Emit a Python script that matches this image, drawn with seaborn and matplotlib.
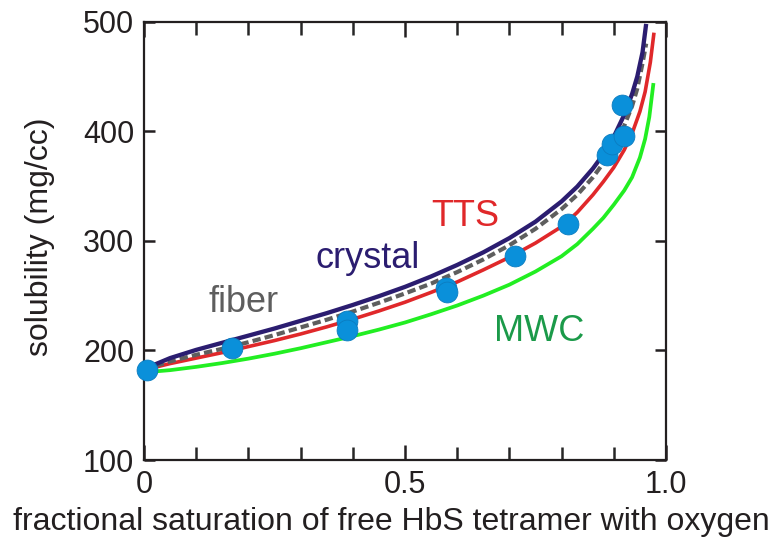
import numpy as np
import pandas as pd
import seaborn as sns
import matplotlib
matplotlib.use("Agg")
import matplotlib.pyplot as plt
from matplotlib.ticker import MultipleLocator, FixedLocator, FixedFormatter

# Model curves: solubility (mg/cc) vs fractional saturation of free HbS tetramer
crystal_x = [0.00, 0.02, 0.05, 0.10, 0.15, 0.20, 0.25, 0.30, 0.35, 0.40, 0.45, 0.50, 0.55, 0.60,
             0.65, 0.70, 0.75, 0.80, 0.83, 0.86, 0.88, 0.90, 0.92, 0.935, 0.945, 0.955, 0.962]
crystal_y = [183, 187, 193, 200.5, 207, 213.5, 220, 227, 234, 241.5, 249.5, 258, 267.5, 278,
             289.5, 302.5, 317.5, 336, 349.5, 366, 379, 395, 415, 434, 450, 472, 498]

fiber_x = [0.00, 0.02, 0.05, 0.10, 0.15, 0.20, 0.25, 0.30, 0.35, 0.40, 0.45, 0.50, 0.55, 0.60,
           0.65, 0.70, 0.75, 0.80, 0.83, 0.86, 0.88, 0.90, 0.92, 0.935, 0.945, 0.955, 0.962]
fiber_y = [182, 185.5, 190, 196, 201.5, 207.5, 214, 221, 228, 235.5, 243.5, 252, 261, 271.5,
           283, 296, 311, 329, 342, 358, 371, 386, 405, 423, 439, 462, 480]

tts_x = [0.00, 0.02, 0.05, 0.10, 0.15, 0.20, 0.25, 0.30, 0.35, 0.40, 0.45, 0.50, 0.55, 0.60,
         0.65, 0.70, 0.75, 0.80, 0.83, 0.86, 0.88, 0.90, 0.92, 0.935, 0.95, 0.96, 0.97, 0.977]
tts_y = [182, 184.5, 188, 193, 198, 203.5, 209, 215, 221.5, 228.5, 236, 244, 253, 262.5,
         273.5, 285, 298, 313, 326, 342, 354, 367, 383, 398, 418, 436, 463, 490]

mwc_x = [0.00, 0.02, 0.05, 0.10, 0.15, 0.20, 0.25, 0.30, 0.35, 0.40, 0.45, 0.50, 0.55, 0.60,
         0.65, 0.70, 0.75, 0.80, 0.83, 0.86, 0.88, 0.90, 0.92, 0.935, 0.95, 0.96, 0.968, 0.976]
mwc_y = [180, 180.8, 182, 185, 188.5, 192.5, 197, 202, 207.5, 213, 219, 225.5, 233, 241,
         250, 260, 272, 286, 297, 311, 321, 333, 346, 358, 376, 393, 413, 444]

# Measured solubilities
meas_x = [0.005, 0.169, 0.388, 0.388, 0.579, 0.581, 0.711, 0.813, 0.887, 0.897, 0.919, 0.916]
meas_y = [182, 202, 227, 219, 257, 253, 286, 315, 378, 388, 396, 424]

x_ticks = [0.0, 0.5, 1.0]
x_tick_labels = ["0", "0.5", "1.0"]
y_ticks = [100, 200, 300, 400, 500]
y_tick_labels = ["100", "200", "300", "400", "500"]

sns.set_style("ticks")
plt.rcParams["font.family"] = ["Liberation Sans", "DejaVu Sans"]

W, H = 774, 546
fig = plt.figure(figsize=(W / 100, H / 100), dpi=100)
ax = fig.add_axes([144 / W, 1 - 460 / H, (666 - 144) / W, (460 - 21.7) / H])

ink = "#231f20"
col_crystal = "#2b1d70"
col_fiber = "#5e5e5e"
col_tts = "#e0282a"
col_mwc = "#22ee22"
col_mwc_text = "#1b9a49"
col_dot = "#0a90da"

curves = pd.concat([
    pd.DataFrame({"x": mwc_x, "y": mwc_y, "model": "MWC"}),
    pd.DataFrame({"x": tts_x, "y": tts_y, "model": "TTS"}),
    pd.DataFrame({"x": fiber_x, "y": fiber_y, "model": "fiber"}),
    pd.DataFrame({"x": crystal_x, "y": crystal_y, "model": "crystal"}),
])

styles = {
    "MWC": dict(color=col_mwc, lw=2.7),
    "TTS": dict(color=col_tts, lw=2.6),
    "fiber": dict(color=col_fiber, lw=3.0, dashes=(2.0, 1.0)),
    "crystal": dict(color=col_crystal, lw=3.1),
}
for name in ["MWC", "TTS", "fiber", "crystal"]:
    sub = curves[curves["model"] == name]
    st = styles[name]
    line_ax = sns.lineplot(data=sub, x="x", y="y", ax=ax, color=st["color"],
                           linewidth=st["lw"], sort=False, estimator=None, zorder=3)
    ln = line_ax.lines[-1]
    if "dashes" in st:
        ln.set_dashes(st["dashes"])
    ln.set_solid_capstyle("butt")
    ln.set_solid_joinstyle("round")

meas = pd.DataFrame({"x": meas_x, "y": meas_y})
sns.scatterplot(data=meas, x="x", y="y", ax=ax, s=225, color=col_dot,
                edgecolor="#0b7cc0", linewidth=0.6, zorder=5, clip_on=False, legend=False)

# Curve names
txt_kw = dict(fontsize=26, ha="center", va="baseline")
ax.text(0.191, 234.8, "fiber", color=col_fiber, **txt_kw)
ax.text(0.429, 274.9, "crystal", color=col_crystal, **txt_kw)
ax.text(0.615, 313.5, "TTS", color=col_tts, **txt_kw)
ax.text(0.757, 208.9, "MWC", color=col_mwc_text, **txt_kw)

ax.set_xlim(0, 1.0)
ax.set_ylim(100, 500)
ax.xaxis.set_major_locator(FixedLocator(x_ticks))
ax.xaxis.set_major_formatter(FixedFormatter(x_tick_labels))
ax.xaxis.set_minor_locator(MultipleLocator(0.1))
ax.yaxis.set_major_locator(FixedLocator(y_ticks))
ax.yaxis.set_major_formatter(FixedFormatter(y_tick_labels))

for side in ["left", "right", "top", "bottom"]:
    ax.spines[side].set_visible(True)
    ax.spines[side].set_linewidth(1.6)
    ax.spines[side].set_color(ink)

ax.tick_params(axis="x", which="major", direction="in", length=11, width=1.8,
               top=True, bottom=True, labelsize=22, pad=7, colors=ink)
ax.tick_params(axis="x", which="minor", direction="in", length=9.5, width=1.8,
               top=True, bottom=True)
ax.tick_params(axis="y", which="major", direction="in", length=8, width=1.8,
               left=True, right=True, labelsize=22, pad=7, colors=ink)
ax.tick_params(axis="y", which="minor", left=False, right=False)

ax.set_xlabel("fractional saturation of free HbS tetramer with oxygen", fontsize=23, color=ink)
ax.set_ylabel("solubility (mg/cc)", fontsize=23, color=ink)
ax.xaxis.label.set_va("center")
ax.xaxis.set_label_coords(0.473, -0.141)
ax.yaxis.label.set_va("center")
ax.yaxis.set_label_coords(-0.199, 0.509)

fig.savefig("out.png", dpi=100)
